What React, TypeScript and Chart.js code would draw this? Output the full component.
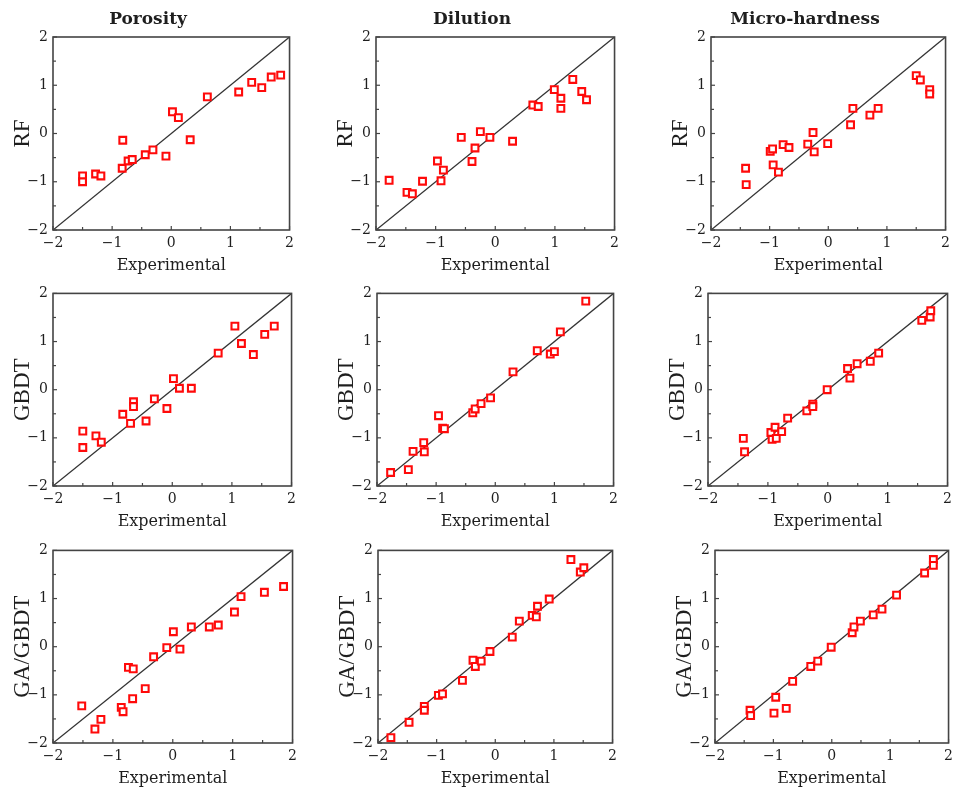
import React, { useEffect, useRef } from "react";
import { Chart, registerables } from "chart.js";

Chart.register(...registerables);

// ---------- labels ----------
const COLUMN_TITLES = ["Porosity", "Dilution", "Micro-hardness"];
const ROW_MODELS = ["RF", "GBDT", "GA/GBDT"];
const X_TITLE = "Experimental";
const AXIS_MIN = -2;
const AXIS_MAX = 2;
const MINOR_TICKS = [-1.5, -0.5, 0.5, 1.5];
const MAJOR_TICKS = [-2, -1, 0, 1, 2];
const DIAGONAL = [-2, 2];

// ---------- RF ----------
const rfPorosityExp = [-1.5, -1.5, -1.28, -1.19, -0.83, -0.82, -0.73, -0.66, -0.44, -0.31, -0.09, 0.02, 0.12, 0.32, 0.61, 1.14, 1.36, 1.53, 1.69, 1.85];
const rfPorosityPred = [-0.88, -1.0, -0.84, -0.88, -0.72, -0.14, -0.57, -0.54, -0.44, -0.34, -0.47, 0.45, 0.33, -0.13, 0.76, 0.86, 1.06, 0.95, 1.17, 1.21];

const rfDilutionExp = [-1.78, -1.48, -1.39, -1.22, -0.97, -0.91, -0.87, -0.57, -0.39, -0.34, -0.25, -0.09, 0.29, 0.63, 0.72, 0.99, 1.1, 1.1, 1.3, 1.45, 1.53];
const rfDilutionPred = [-0.97, -1.22, -1.25, -0.99, -0.57, -0.98, -0.76, -0.08, -0.58, -0.3, 0.04, -0.08, -0.16, 0.59, 0.56, 0.91, 0.73, 0.52, 1.12, 0.87, 0.7];

const rfHardnessExp = [-1.41, -1.4, -0.99, -0.95, -0.94, -0.85, -0.77, -0.67, -0.35, -0.26, -0.24, -0.01, 0.38, 0.42, 0.71, 0.85, 1.5, 1.57, 1.73, 1.73];
const rfHardnessPred = [-0.72, -1.06, -0.37, -0.32, -0.65, -0.8, -0.23, -0.29, -0.22, 0.02, -0.38, -0.21, 0.18, 0.52, 0.38, 0.52, 1.2, 1.11, 0.91, 0.82];

// ---------- GBDT ----------
const gbdtPorosityExp = [-1.5, -1.5, -1.28, -1.19, -0.83, -0.7, -0.65, -0.65, -0.44, -0.3, -0.09, 0.02, 0.12, 0.32, 0.77, 1.05, 1.16, 1.36, 1.55, 1.71];
const gbdtPorosityPred = [-0.86, -1.2, -0.96, -1.09, -0.51, -0.7, -0.25, -0.35, -0.65, -0.19, -0.39, 0.23, 0.03, 0.03, 0.76, 1.32, 0.96, 0.73, 1.15, 1.32];

const gbdtDilutionExp = [-1.77, -1.47, -1.39, -1.21, -1.2, -0.96, -0.89, -0.86, -0.38, -0.34, -0.24, -0.08, 0.3, 0.71, 0.93, 1.0, 1.1, 1.53];
const gbdtDilutionPred = [-1.72, -1.66, -1.28, -1.1, -1.29, -0.54, -0.8, -0.81, -0.48, -0.4, -0.29, -0.17, 0.37, 0.81, 0.74, 0.79, 1.2, 1.84];

const gbdtHardnessExp = [-1.41, -1.39, -0.95, -0.93, -0.88, -0.86, -0.77, -0.67, -0.35, -0.25, -0.25, -0.01, 0.33, 0.37, 0.49, 0.71, 0.85, 1.57, 1.71, 1.72];
const gbdtHardnessPred = [-1.01, -1.29, -0.89, -1.03, -0.78, -1.01, -0.87, -0.59, -0.44, -0.3, -0.35, 0.0, 0.44, 0.24, 0.54, 0.59, 0.76, 1.44, 1.51, 1.64];

// ---------- GA/GBDT ----------
const gaPorosityExp = [-1.52, -1.3, -1.2, -0.86, -0.83, -0.74, -0.66, -0.67, -0.46, -0.32, -0.1, 0.01, 0.12, 0.31, 0.61, 0.76, 1.03, 1.14, 1.53, 1.85];
const gaPorosityPred = [-1.23, -1.71, -1.51, -1.26, -1.35, -0.43, -0.46, -1.08, -0.87, -0.21, -0.02, 0.31, -0.05, 0.41, 0.41, 0.45, 0.72, 1.04, 1.13, 1.25];

const gaDilutionExp = [-1.78, -1.47, -1.21, -1.21, -0.97, -0.9, -0.56, -0.38, -0.34, -0.24, -0.09, 0.29, 0.41, 0.63, 0.7, 0.72, 0.92, 1.29, 1.45, 1.51];
const gaDilutionPred = [-1.89, -1.57, -1.24, -1.32, -1.01, -0.98, -0.7, -0.28, -0.41, -0.3, -0.1, 0.2, 0.53, 0.65, 0.62, 0.84, 0.99, 1.81, 1.55, 1.64];

const gaHardnessExp = [-1.4, -1.39, -0.99, -0.96, -0.78, -0.67, -0.36, -0.24, -0.01, 0.35, 0.38, 0.49, 0.71, 0.86, 1.11, 1.59, 1.74, 1.74];
const gaHardnessPred = [-1.32, -1.43, -1.38, -1.05, -1.28, -0.72, -0.41, -0.3, -0.01, 0.29, 0.41, 0.53, 0.66, 0.78, 1.07, 1.53, 1.81, 1.69];

// ---------- panel grid (rows x cols) ----------
const SERIES = [
  [[rfPorosityExp, rfPorosityPred], [rfDilutionExp, rfDilutionPred], [rfHardnessExp, rfHardnessPred]],
  [[gbdtPorosityExp, gbdtPorosityPred], [gbdtDilutionExp, gbdtDilutionPred], [gbdtHardnessExp, gbdtHardnessPred]],
  [[gaPorosityExp, gaPorosityPred], [gaDilutionExp, gaDilutionPred], [gaHardnessExp, gaHardnessPred]],
];

// plot-area geometry (layout only)
const ROW_TB = [[37, 230], [292, 486], [549, 743]];
const COL_LR = [
  [[53, 293], [376, 618], [711, 949]],
  [[53, 295], [377, 617], [708, 951]],
  [[53, 296], [378, 616], [715, 952]],
];
const Y_AXIS_W = 50;
const X_AXIS_H = 45;
const RIGHT_PAD = 6;
const TOP_PAD = 12;
const TITLE_H = 37;

const TEXT = "#1e1e1e";
const TICK_FONT = "'DejaVu Serif', serif";
const YTITLE_FONT = "'Liberation Serif', 'Times New Roman', serif";

const fmt = (v: number) => (v < 0 ? "\u2212" + Math.abs(v) : String(v));

const framePlugin = {
  id: "frameTicks",
  afterDatasetsDraw(chart: any) {
    const { ctx, chartArea, scales } = chart;
    const { left, right, top, bottom } = chartArea;
    const xs = scales.x;
    const ys = scales.y;
    ctx.save();
    ctx.strokeStyle = "#444444";
    ctx.lineWidth = 1.6;
    ctx.strokeRect(left, top, right - left, bottom - top);
    ctx.lineWidth = 1.2;
    const draw = (vals: number[], len: number) => {
      vals.forEach((v) => {
        const px = xs.getPixelForValue(v);
        ctx.beginPath();
        ctx.moveTo(px, bottom);
        ctx.lineTo(px, bottom - len);
        ctx.stroke();
        const py = ys.getPixelForValue(v);
        ctx.beginPath();
        ctx.moveTo(left, py);
        ctx.lineTo(left + len, py);
        ctx.stroke();
      });
    };
    draw(MAJOR_TICKS, 4);
    draw(MINOR_TICKS, 3);
    ctx.restore();
  },
};

function Panel({ row, col }: { row: number; col: number }) {
  const ref = useRef<HTMLCanvasElement | null>(null);
  const [top, bottom] = ROW_TB[row];
  const [left, right] = COL_LR[row][col];
  const padTop = row === 0 ? TITLE_H : TOP_PAD;
  const w = Y_AXIS_W + (right - left) + RIGHT_PAD;
  const h = padTop + (bottom - top) + X_AXIS_H;
  const boxLeft = left - Y_AXIS_W;
  const boxTop = top - padTop;

  useEffect(() => {
    const [xsData, ysData] = SERIES[row][col];
    const points = xsData.map((x, i) => ({ x, y: ysData[i] }));
    const chart = new Chart(ref.current as HTMLCanvasElement, {
      type: "scatter",
      data: {
        datasets: [
          {
            data: points,
            pointStyle: "rect",
            pointRadius: 4.8,
            borderWidth: 2.1,
            borderColor: "#ff0a0a",
            backgroundColor: "#ffffff",
          } as any,
          {
            type: "line",
            data: DIAGONAL.map((v) => ({ x: v, y: v })),
            borderColor: "#333333",
            borderWidth: 1.3,
            pointRadius: 0,
            showLine: true,
            fill: false,
          } as any,
        ],
      },
      plugins: [framePlugin],
      options: {
        animation: false,
        responsive: false,
        devicePixelRatio: 1,
        layout: { padding: { top: row === 0 ? 0 : TOP_PAD, right: RIGHT_PAD, left: 0, bottom: 0 } },
        plugins: {
          legend: { display: false },
          tooltip: { enabled: false },
          title: {
            display: row === 0,
            text: COLUMN_TITLES[col],
            color: TEXT,
            font: { family: TICK_FONT, size: 17, weight: "bold" },
            padding: { top: 9, bottom: 7.6 },
          },
        },
        scales: {
          x: {
            type: "linear",
            min: AXIS_MIN,
            max: AXIS_MAX,
            afterFit: (axis: any) => {
              axis.height = X_AXIS_H;
            },
            grid: { display: false, drawTicks: false },
            border: { display: false },
            ticks: {
              stepSize: 1,
              padding: 5,
              color: TEXT,
              font: { family: TICK_FONT, size: 14 },
              callback: (v: any) => fmt(Number(v)),
              maxRotation: 0,
            },
            title: {
              display: true,
              text: X_TITLE,
              color: TEXT,
              font: { family: TICK_FONT, size: 16 },
              padding: { top: 0, bottom: 0 },
            },
          },
          y: {
            type: "linear",
            min: AXIS_MIN,
            max: AXIS_MAX,
            afterFit: (axis: any) => {
              axis.width = Y_AXIS_W;
            },
            grid: { display: false, drawTicks: false },
            border: { display: false },
            ticks: {
              stepSize: 1,
              padding: 5,
              color: TEXT,
              font: { family: TICK_FONT, size: 14 },
              callback: (v: any) => fmt(Number(v)),
            },
            title: {
              display: true,
              text: ROW_MODELS[row],
              color: TEXT,
              font: { family: YTITLE_FONT, size: 23 },
              padding: { top: 6, bottom: 0 },
            },
          },
        },
      } as any,
    });
    return () => chart.destroy();
  }, [row, col]);

  return (
    <div style={{ position: "absolute", left: boxLeft, top: boxTop, width: w, height: h }}>
      <canvas ref={ref} width={w} height={h} style={{ width: w, height: h, display: "block" }} />
    </div>
  );
}

export default function App() {
  const cells: JSX.Element[] = [];
  for (let r = 0; r < 3; r++) {
    for (let c = 0; c < 3; c++) {
      cells.push(<Panel key={`${r}-${c}`} row={r} col={c} />);
    }
  }
  return (
    <div
      style={{
        position: "absolute",
        left: 0,
        top: 0,
        width: 959,
        height: 791,
        overflow: "hidden",
        background: "#ffffff",
      }}
    >
      {cells}
    </div>
  );
}
